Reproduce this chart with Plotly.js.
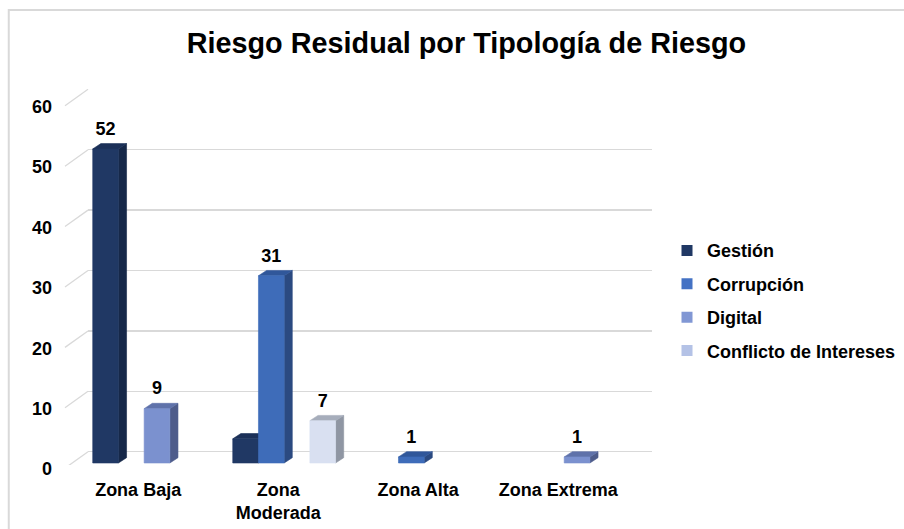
<!DOCTYPE html>
<html>
<head>
<meta charset="utf-8">
<script src="https://cdn.plot.ly/plotly-3.0.1.min.js"></script>
<style>html,body{margin:0;padding:0;background:#fff;}#chart{width:904px;height:529px;}</style>
</head>
<body>
<div id="chart"></div>
<script>
// ---- data ----
const categories = ['Zona Baja', 'Zona<br>Moderada', 'Zona Alta', 'Zona Extrema'];
const seriesNames = ['Gestión', 'Corrupción', 'Digital', 'Conflicto de Intereses'];
const gestion = [52, 4, 0, 0];
const corrupcion = [0, 31, 1, 0];
const digital = [9, 0, 0, 1];
const conflicto = [0, 7, 0, 0];
const gestionLabels = ['52', '', '', ''];
const corrupcionLabels = ['', '31', '1', ''];
const digitalLabels = ['9', '', '', '1'];
const conflictoLabels = ['', '7', '', ''];
const yTicks = [0, 10, 20, 30, 40, 50, 60];

// ---- styles ----
const styles = [
  {front: '#203864', side: '#162849', top: '#1b3058', legend: '#203864'},
  {front: '#3e6cb9', side: '#2b4a81', top: '#30579a', legend: '#4472c4'},
  {front: '#7b91cf', side: '#4e5c8b', top: '#5f72aa', legend: '#8197d4'},
  {front: '#d9e0f1', side: '#8f96a3', top: '#a6adbb', legend: '#b4c2e6'}
];
const seriesValues = [gestion, corrupcion, digital, conflicto];
const seriesLabels = [gestionLabels, corrupcionLabels, digitalLabels, conflictoLabels];

// 3D geometry (axis units)
const bw = 0.1836;      // bar front width
const dx = 0.058;       // depth in x
const dy = 0.88;        // depth in y
const labelOff = 3.1;   // label center above front top
const groupHalf = 2 * bw;

const traces = [];
// legend entries
seriesNames.forEach((n, j) => {
  traces.push({
    type: 'scatter', mode: 'markers', x: [null], y: [null], yaxis: 'y2',
    name: n, legendgroup: 'g' + j,
    marker: {symbol: 'square', size: 11, color: styles[j].legend},
    hoverinfo: 'skip'
  });
});

function poly(j, kind) {
  const xs = [], ys = [];
  seriesValues[j].forEach((v, i) => {
    if (!v) return;
    const x0 = i - groupHalf + j * bw, x1 = x0 + bw;
    let px, py;
    if (kind === 'front') { px = [x0, x1, x1, x0, x0]; py = [0, 0, v, v, 0]; }
    else if (kind === 'side') { px = [x1, x1 + dx, x1 + dx, x1, x1]; py = [0, dy, v + dy, v, 0]; }
    else { px = [x0, x1, x1 + dx, x0 + dx, x0]; py = [v, v, v + dy, v + dy, v]; }
    xs.push(...px, null); ys.push(...py, null);
  });
  return {
    type: 'scatter', mode: 'lines', x: xs, y: ys, yaxis: 'y2',
    fill: 'toself', fillcolor: styles[j][kind],
    line: {width: 0.6, color: styles[j][kind]},
    showlegend: false, hoverinfo: 'skip'
  };
}
for (let j = 0; j < 4; j++) {
  traces.push(poly(j, 'side'));
  traces.push(poly(j, 'top'));
  traces.push(poly(j, 'front'));
}
// data labels
for (let j = 0; j < 4; j++) {
  const xs = [], ys = [], ts = [];
  seriesValues[j].forEach((v, i) => {
    if (!seriesLabels[j][i]) return;
    xs.push(i - groupHalf + j * bw + bw / 2);
    ys.push(v + labelOff);
    ts.push(seriesLabels[j][i]);
  });
  traces.push({
    type: 'scatter', mode: 'text', x: xs, y: ys, yaxis: 'y2', text: ts,
    textposition: 'middle center', cliponaxis: false,
    textfont: {family: 'Liberation Sans, Arial, sans-serif', size: 18, color: '#000', weight: 'bold'},
    showlegend: false, hoverinfo: 'skip'
  });
}

const font = {family: 'Liberation Sans, Arial, sans-serif', size: 18, color: '#000', weight: 'bold'};

const shapes = yTicks.map(v => ({
  type: 'line', xref: 'x domain', yref: 'y',
  x0: -0.0408, x1: 0, y0: v - 2.73, y1: v,
  line: {color: '#d9d9d9', width: 1.3}, layer: 'below'
}));
shapes.push({
  type: 'rect', xref: 'paper', yref: 'paper',
  x0: -0.1405, x1: 1.7, y0: -0.3, y1: 1.21,
  line: {color: '#d9d9d9', width: 2}, fillcolor: 'rgba(0,0,0,0)', layer: 'below'
});

const layout = {
  width: 904, height: 529,
  margin: {l: 88, r: 252, t: 89, b: 64, autoexpand: false},
  paper_bgcolor: '#fff', plot_bgcolor: '#fff',
  font: font,
  title: {
    text: 'Riesgo Residual por Tipología de Riesgo',
    font: {family: 'Liberation Sans, Arial, sans-serif', size: 28.8, color: '#000', weight: 'bold'},
    x: 0.516, xanchor: 'center', y: 0.918, yanchor: 'middle', xref: 'container', yref: 'container'
  },
  xaxis: {
    range: [-0.401, 3.627], tickvals: [0, 1, 2, 3], ticktext: categories,
    showgrid: false, zeroline: false, showline: false, ticks: '',
    ticklabelshift: -6, ticklabelstandoff: 12, fixedrange: true,
    tickfont: font
  },
  yaxis: {
    range: [-2.20, 60.05], tickvals: yTicks, showticklabels: false,
    showgrid: true, gridcolor: '#d9d9d9', gridwidth: 1.3, zeroline: false, showline: false, ticks: ''
  },
  yaxis2: {
    overlaying: 'y', side: 'left',
    range: [-0.331, 61.92], tickvals: yTicks,
    showgrid: false, zeroline: false, showline: false, ticks: '',
    ticklabelstandoff: 35, ticklabelshift: 6,
    tickfont: font
  },
  legend: {
    x: 1.0266, xanchor: 'left', y: 0.437, yanchor: 'middle',
    font: font, traceorder: 'grouped', tracegroupgap: 7,
    bgcolor: 'rgba(0,0,0,0)'
  },
  shapes: shapes,
  showlegend: true
};

Plotly.newPlot('chart', traces, layout, {displayModeBar: false, staticPlot: true});
</script>
</body>
</html>
